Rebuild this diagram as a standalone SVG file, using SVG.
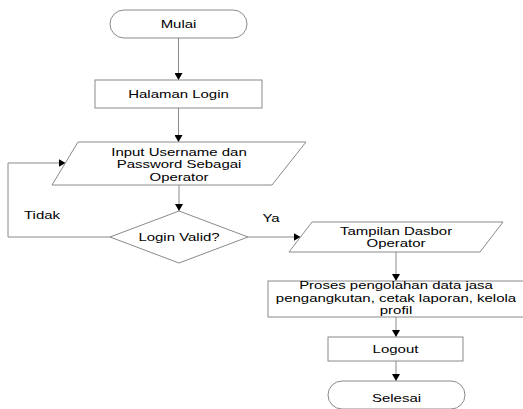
<svg xmlns="http://www.w3.org/2000/svg" width="523" height="409" viewBox="0 0 523 409">
<style>
.shape{fill:#ffffff;stroke:#8a8a8a;stroke-width:1}
.conn{fill:none;stroke:#8a8a8a;stroke-width:1}
text{font-family:"Liberation Sans",Arial,sans-serif;font-size:11px;fill:#000000;text-anchor:middle}
</style>
<defs>
<marker id="arr" viewBox="0 0 8 8" refX="8" refY="4" markerWidth="7" markerHeight="8" markerUnits="userSpaceOnUse" orient="auto" preserveAspectRatio="none">
<path d="M0,0 L8,4 L0,8 z" fill="#000000"/>
</marker>
</defs>
<rect width="523" height="409" fill="#ffffff"/>
<g id="connectors">
<line class="conn" x1="178.5" y1="38" x2="178.5" y2="80" marker-end="url(#arr)"/>
<line class="conn" x1="178.5" y1="108" x2="178.5" y2="142" marker-end="url(#arr)"/>
<line class="conn" x1="179" y1="185" x2="179" y2="211" marker-end="url(#arr)"/>
<polyline class="conn" points="110,237 8,237 8,163 65.5,163" marker-end="url(#arr)"/>
<line class="conn" x1="248" y1="237" x2="300.5" y2="237" marker-end="url(#arr)"/>
<line class="conn" x1="396" y1="252" x2="396" y2="281" marker-end="url(#arr)"/>
<line class="conn" x1="396" y1="317" x2="396" y2="337" marker-end="url(#arr)"/>
<line class="conn" x1="396" y1="361" x2="396" y2="381" marker-end="url(#arr)"/>
<text transform="translate(42,0) scale(1.36,1)" x="0" y="219">Tidak</text>
<text transform="translate(271,0) scale(1.36,1)" x="0" y="222">Ya</text>
</g>
<g id="mulai">
<rect class="shape" x="110" y="10" width="137" height="28" rx="14" ry="14"/>
<text transform="translate(178.5,0) scale(1.36,1)" x="0" y="28">Mulai</text>
</g>
<g id="halaman-login">
<rect class="shape" x="95" y="80" width="167" height="28"/>
<text transform="translate(178.5,0) scale(1.36,1)" x="0" y="98">Halaman Login</text>
</g>
<g id="input">
<polygon class="shape" points="78,142 306,142 272,185 52,185"/>
<text transform="translate(179,0) scale(1.36,1)" x="0" y="156">Input Username dan</text>
<text transform="translate(179,0) scale(1.36,1)" x="0" y="168.4">Password Sebagai</text>
<text transform="translate(179,0) scale(1.36,1)" x="0" y="180.8">Operator</text>
</g>
<g id="login-valid">
<polygon class="shape" points="110,237 179,211 248,237 179,263"/>
<text transform="translate(179,0) scale(1.36,1)" x="0" y="241">Login Valid?</text>
</g>
<g id="tampilan">
<polygon class="shape" points="312,222 503,222 480,252 289,252"/>
<text transform="translate(396,0) scale(1.36,1)" x="0" y="235">Tampilan Dasbor</text>
<text transform="translate(396,0) scale(1.36,1)" x="0" y="247.4">Operator</text>
</g>
<g id="proses">
<rect class="shape" x="268" y="281" width="256" height="36"/>
<text transform="translate(396,0) scale(1.36,1)" x="0" y="289.5">Proses pengolahan data jasa</text>
<text transform="translate(396,0) scale(1.36,1)" x="0" y="302">pengangkutan, cetak laporan, kelola</text>
<text transform="translate(396,0) scale(1.36,1)" x="0" y="314.5">profil</text>
</g>
<g id="logout">
<rect class="shape" x="328" y="337" width="135" height="24"/>
<text transform="translate(395.5,0) scale(1.36,1)" x="0" y="353">Logout</text>
</g>
<g id="selesai">
<rect class="shape" x="328" y="381" width="137" height="28" rx="14" ry="14"/>
<text transform="translate(396.5,0) scale(1.36,1)" x="0" y="402.5">Selesai</text>
</g>
</svg>
